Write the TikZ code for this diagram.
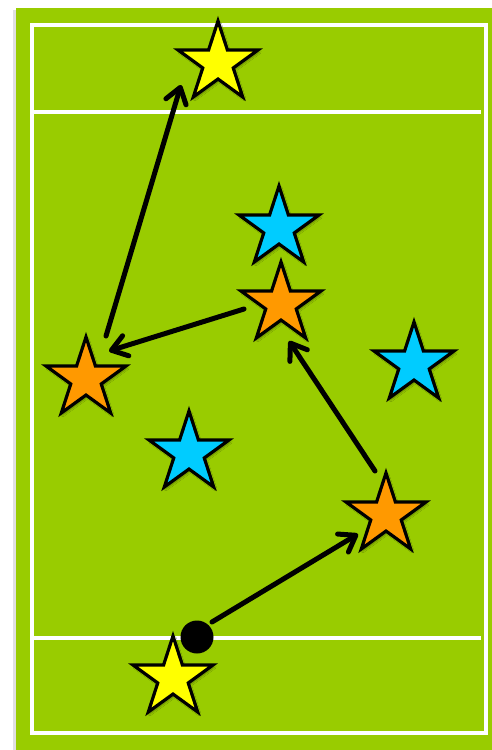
\documentclass[tikz,border=0pt]{standalone}
\usetikzlibrary{shapes.geometric,arrows.meta,shadows.blur}
\definecolor{field}{HTML}{99CC00}
\definecolor{syellow}{HTML}{FFFF00}
\definecolor{sorange}{HTML}{FF9900}
\definecolor{sblue}{HTML}{00CCFF}
\tikzset{
  player/.style={star, star points=5, star point ratio=2.618, minimum size=84pt,
    inner sep=0pt, draw=black, line width=3.2pt, line join=miter,
    blur shadow={shadow xshift=1.5pt, shadow yshift=-2pt, shadow blur steps=6, shadow opacity=35}},
  yel/.style={player, fill=syellow},
  ora/.style={player, fill=sorange},
  blu/.style={player, fill=sblue},
  pass/.style={line width=5pt, line cap=round, black,
    -{Straight Barb[length=15pt, width=21pt, line cap=round, line join=round]}},
  courtline/.style={white, line width=4.5pt}
}
\begin{document}
\begin{tikzpicture}[x=1pt, y=-1pt]
\useasboundingbox (0,0) rectangle (492,750);
\fill[white] (0,0) rectangle (492,750);
% field with faint shadow on left
\fill[black!12] (13,10) rectangle (492,750);
\fill[field] (16,8) rectangle (492,750);
% court lines
\draw[courtline] (32,25) rectangle (486,733);
\draw[courtline] (32,112) -- (481,112);
\draw[courtline] (32,638) -- (481,638);
% players
\node[yel] (y1) at (218,63) {};
\node[blu] (b1) at (279,228) {};
\node[ora] (o2) at (281,304) {};
\node[blu] (b2) at (414,364) {};
\node[ora] (o1) at (86,379) {};
\node[blu] (b3) at (189,453) {};
\node[ora] (o3) at (386,515) {};
\node[yel] (y2) at (173,678) {};
% ball
\node[circle, fill=black, minimum size=33pt, inner sep=0pt] (ball) at (197,637) {};
% pass endpoints
\coordinate (p1s) at (212,622);
\coordinate (p1e) at (358,534);
\coordinate (p2s) at (375,471);
\coordinate (p2e) at (289,341);
\coordinate (p3s) at (244,309);
\coordinate (p3e) at (109,351);
\coordinate (p4s) at (106,336);
\coordinate (p4e) at (181,85);
\draw[pass] (p1s) -- (p1e);
\draw[pass] (p2s) -- (p2e);
\draw[pass] (p3s) -- (p3e);
\draw[pass] (p4s) -- (p4e);
\end{tikzpicture}
\end{document}
